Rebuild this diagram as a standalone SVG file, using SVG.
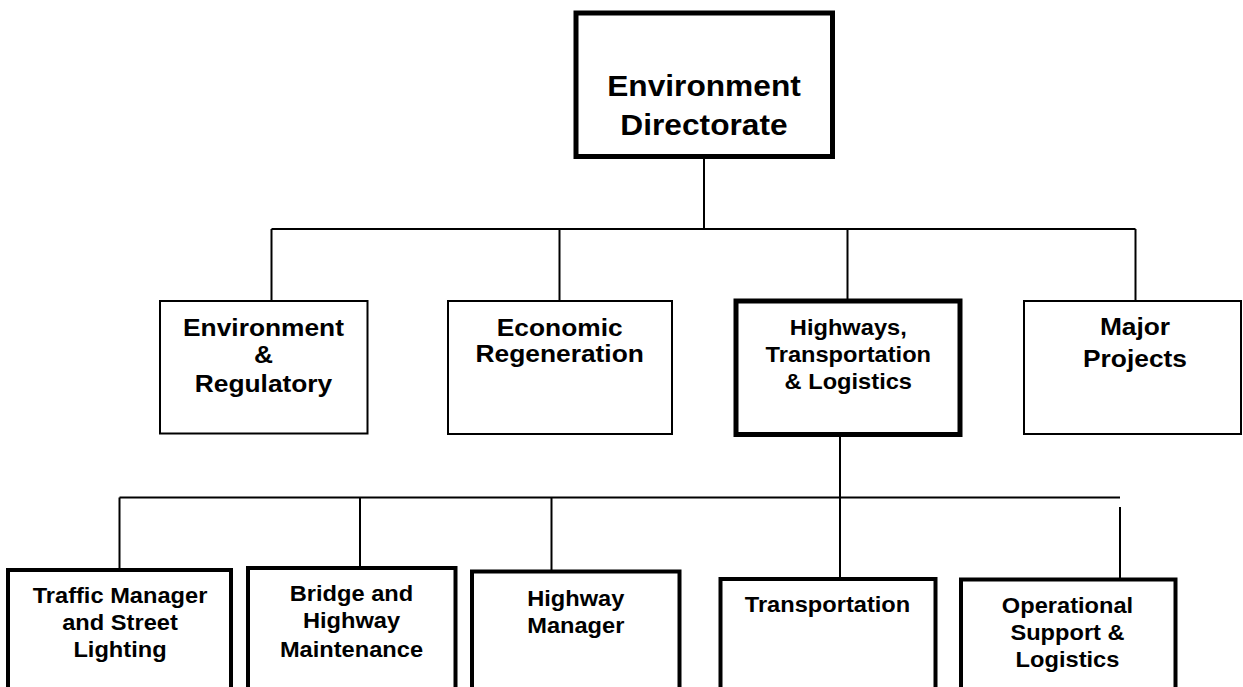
<svg xmlns="http://www.w3.org/2000/svg" width="1243" height="687" viewBox="0 0 1243 687">
  <style>
    .box { fill: #ffffff; stroke: #000000; }
    .thin { stroke-width: 2; }
    .thick { stroke-width: 5; }
    .mid { stroke-width: 4; }
    .wire { fill: none; stroke: #000000; stroke-width: 2; }
    text { font-family: "Liberation Sans", Arial, sans-serif; font-weight: bold; fill: #000000; text-anchor: middle; }
    .t1 { font-size: 29.5px; }
    .t2 { font-size: 24.5px; }
    .t3 { font-size: 22px; }
  </style>
  <rect width="1243" height="687" fill="#ffffff"/>

  <!-- connectors -->
  <g id="connectors" class="wire">
    <path d="M704 158 V229"/>
    <path d="M271.5 229 H1135.5"/>
    <path d="M271.5 229 V301"/>
    <path d="M559.5 229 V301"/>
    <path d="M847.5 229 V301"/>
    <path d="M1135.5 229 V301"/>
    <path d="M840 436 V579"/>
    <path d="M119.5 497.5 H1120"/>
    <path d="M119.5 497.5 V570"/>
    <path d="M360 497.5 V568"/>
    <path d="M551.5 497.5 V571.5"/>
    <path d="M1120 507 V579.5"/>
  </g>

  <!-- top -->
  <g id="environment-directorate">
    <rect class="box thick" x="576" y="13" width="256.5" height="143.5"/>
    <g transform="translate(704 0) scale(1.075 1)">
      <text class="t1" x="0" y="96.5">Environment</text>
      <text class="t1" x="0" y="135">Directorate</text>
    </g>
  </g>

  <!-- second tier -->
  <g id="environment-regulatory">
    <rect class="box thin" x="160" y="301" width="207.5" height="132.5"/>
    <g transform="translate(263.5 0) scale(1.075 1)">
      <text class="t2" x="0" y="336">Environment</text>
      <text class="t2" x="0" y="363.5">&amp;</text>
      <text class="t2" x="0" y="392">Regulatory</text>
    </g>
  </g>

  <g id="economic-regeneration">
    <rect class="box thin" x="448" y="301" width="224" height="133"/>
    <g transform="translate(559.7 0) scale(1.075 1)">
      <text class="t2" x="0" y="336.5">Economic</text>
      <text class="t2" x="0" y="362.5">Regeneration</text>
    </g>
  </g>

  <g id="highways-transportation-logistics">
    <rect class="box thick" x="736" y="301" width="224" height="133.5"/>
    <g transform="translate(848.3 0) scale(1.075 1)">
      <text class="t3" x="0" y="335">Highways,</text>
      <text class="t3" x="0" y="362">Transportation</text>
      <text class="t3" x="0" y="389.5">&amp; Logistics</text>
    </g>
  </g>

  <g id="major-projects">
    <rect class="box thin" x="1024" y="301" width="217" height="133"/>
    <g transform="translate(1135 0) scale(1.075 1)">
      <text class="t2" x="0" y="335.5">Major</text>
      <text class="t2" x="0" y="367">Projects</text>
    </g>
  </g>

  <!-- third tier -->
  <g id="traffic-manager-street-lighting">
    <rect class="box mid" x="8" y="570" width="223" height="130"/>
    <g transform="translate(120 0) scale(1.075 1)">
      <text class="t3" x="0" y="603.3">Traffic Manager</text>
      <text class="t3" x="0" y="630">and Street</text>
      <text class="t3" x="0" y="657">Lighting</text>
    </g>
  </g>

  <g id="bridge-highway-maintenance">
    <rect class="box mid" x="248" y="568" width="207.5" height="130"/>
    <g transform="translate(351.5 0) scale(1.075 1)">
      <text class="t3" x="0" y="601">Bridge and</text>
      <text class="t3" x="0" y="628.3">Highway</text>
      <text class="t3" x="0" y="657">Maintenance</text>
    </g>
  </g>

  <g id="highway-manager">
    <rect class="box mid" x="472" y="571.5" width="207.5" height="130"/>
    <g transform="translate(575.8 0) scale(1.075 1)">
      <text class="t3" x="0" y="605.7">Highway</text>
      <text class="t3" x="0" y="633.3">Manager</text>
    </g>
  </g>

  <g id="transportation">
    <rect class="box mid" x="720.5" y="579" width="215" height="130"/>
    <g transform="translate(827.5 0) scale(1.075 1)">
      <text class="t3" x="0" y="612.3">Transportation</text>
    </g>
  </g>

  <g id="operational-support-logistics">
    <rect class="box mid" x="961" y="579.5" width="214.5" height="130"/>
    <g transform="translate(1067.5 0) scale(1.075 1)">
      <text class="t3" x="0" y="613.3">Operational</text>
      <text class="t3" x="0" y="640">Support &amp;</text>
      <text class="t3" x="0" y="666.7">Logistics</text>
    </g>
  </g>
</svg>
